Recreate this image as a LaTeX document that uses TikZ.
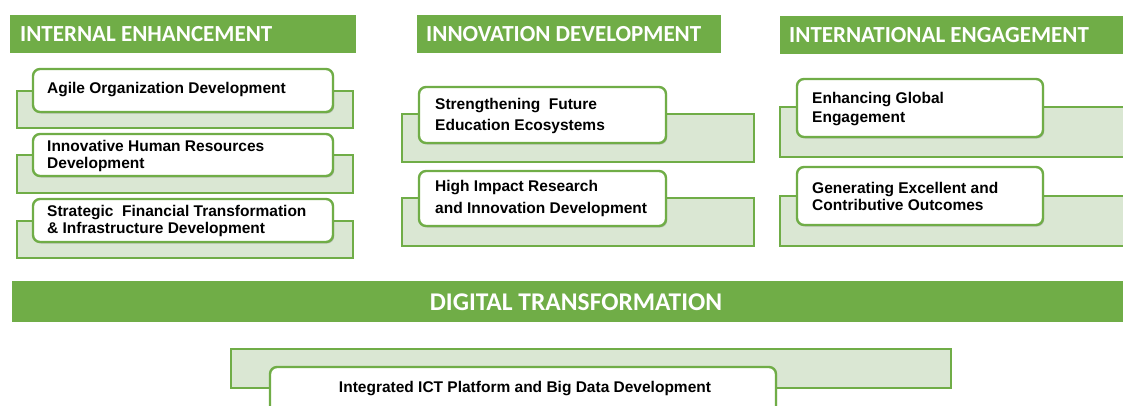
\documentclass[tikz,border=0pt]{standalone}
\usepackage{fontspec}
\setmainfont{Liberation Sans}
\newfontfamily\hdfont{Carlito}
\usetikzlibrary{shadows}
\definecolor{gr}{HTML}{70AD47}
\definecolor{lg}{HTML}{DAE7D3}
\begin{document}
\begin{tikzpicture}[x=1pt,y=-1pt,
  hdrbar/.style={fill=gr, draw=none, anchor=north west, inner sep=0pt, outer sep=0pt},
  hdrtxt/.style={text=white, font=\hdfont\bfseries\fontsize{23}{26}\selectfont, inner sep=0pt, anchor=west},
  backbox/.style={draw=gr, fill=lg, line width=2pt, anchor=north west, inner sep=0pt, outer sep=0pt},
  frontbox/.style={draw=gr, fill=white, line width=2.4pt, rounded corners=7pt, anchor=north west, inner sep=0pt, outer sep=0pt,
    drop shadow={shadow xshift=1.2pt, shadow yshift=-1.5pt, opacity=0.3, fill=black!60}},
  itemtxt/.style={font=\bfseries\fontsize{15.5}{17}\selectfont, align=left, anchor=west, inner sep=0pt}
]
\useasboundingbox (0,0) rectangle (1123,405);
\clip (0,0) rectangle (1123,405);

% headers
\node[hdrbar, minimum width=346pt, minimum height=38pt] (h1) at (10,15) {};
\node[hdrtxt] (h1t) at (20,34) {INTERNAL ENHANCEMENT};
\node[hdrbar, minimum width=304pt, minimum height=38pt] (h2) at (417,15) {};
\node[hdrtxt] (h2t) at (426,34) {INNOVATION DEVELOPMENT};
\node[hdrbar, minimum width=350pt, minimum height=38pt] (h3) at (780,16) {};
\node[hdrtxt] (h3t) at (789,35) {INTERNATIONAL ENGAGEMENT};

% left column
\node[backbox, minimum width=336pt, minimum height=37pt] (lb1) at (17,91) {};
\node[frontbox, minimum width=300pt, minimum height=43pt] (lf1) at (33,69) {};
\node[itemtxt] (lt1) at (47,90) {Agile Organization Development};
\node[backbox, minimum width=336pt, minimum height=38pt] (lb2) at (17,155) {};
\node[frontbox, minimum width=300pt, minimum height=42pt] (lf2) at (33,134) {};
\node[itemtxt] (lt2) at (47,156) {Innovative Human Resources\\Development};
\node[backbox, minimum width=336pt, minimum height=37pt] (lb3) at (17,221) {};
\node[frontbox, minimum width=300pt, minimum height=43pt] (lf3) at (33,199) {};
\node[itemtxt] (lt3) at (47,221) {Strategic\ \ Financial Transformation\\\& Infrastructure Development};

% middle column
\node[backbox, minimum width=352pt, minimum height=48pt] (mb1) at (402,114) {};
\node[frontbox, minimum width=247pt, minimum height=56pt] (mf1) at (419,87) {};
\node[itemtxt, font=\bfseries\fontsize{15.5}{21}\selectfont] (mt1) at (435,116) {Strengthening\ \ Future\\Education Ecosystems};
\node[backbox, minimum width=352pt, minimum height=48pt] (mb2) at (402,198) {};
\node[frontbox, minimum width=247pt, minimum height=55pt] (mf2) at (419,171) {};
\node[itemtxt, font=\bfseries\fontsize{15.5}{22}\selectfont] (mt2) at (435,198) {High Impact Research\\and Innovation Development};

% right column
\node[backbox, minimum width=360pt, minimum height=50pt] (rb1) at (780,107) {};
\node[frontbox, minimum width=246pt, minimum height=58pt] (rf1) at (797,79) {};
\node[itemtxt, font=\bfseries\fontsize{15.5}{19}\selectfont] (rt1) at (812,109) {Enhancing Global\\Engagement};
\node[backbox, minimum width=360pt, minimum height=50pt] (rb2) at (780,196) {};
\node[frontbox, minimum width=246pt, minimum height=58pt] (rf2) at (797,167) {};
\node[itemtxt] (rt2) at (812,196) {Generating Excellent and\\Contributive Outcomes};

% digital transformation
\node[hdrbar, minimum width=1115pt, minimum height=41pt] (dt) at (12,281) {};
\node[text=white, font=\hdfont\bfseries\fontsize{25.5}{28}\selectfont, inner sep=0pt] (dtt) at (576,302) {DIGITAL TRANSFORMATION};

% bottom
\node[backbox, minimum width=720pt, minimum height=39pt] (bb) at (231,349) {};
\node[frontbox, minimum width=506pt, minimum height=60pt] (bf) at (270,367) {};
\node[font=\bfseries\fontsize{15.5}{17}\selectfont, inner sep=0pt] (bt) at (525,389) {Integrated ICT Platform and Big Data Development};
\end{tikzpicture}
\end{document}
